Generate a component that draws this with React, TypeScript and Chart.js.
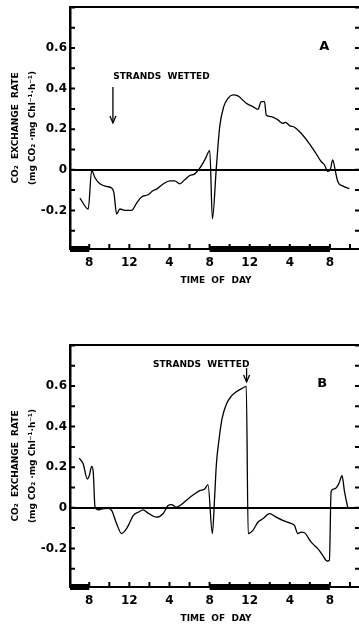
import React, { useEffect, useRef } from 'react';
import { Chart, registerables } from 'chart.js';

Chart.register(...registerables);

// ---- data ----
const X_MIN = 6.08; // hours (clock time, continuous across midnight)
const X_MAX = 35.2;
const Y_MIN = -0.39;
const Y_MAX = 0.802;

const hourTicks = [8, 12, 16, 20, 24, 28, 32];
const hourLabels = ['8', '12', '4', '8', '12', '4', '8'];
const yLabelValues = [0.6, 0.4, 0.2, 0, -0.2];
const yLabelTexts = ['0.6', '0.4', '0.2', '0', '-0.2'];
const darkStart = [X_MIN, 20];
const darkEnd = [8, 32];

const timeA = [7.07, 7.90, 8.24, 8.57, 9.06, 9.73, 10.23, 10.46, 10.73, 11.05, 11.55, 12.22, 12.72, 13.21, 13.87, 14.37, 14.71, 15.36, 16.03, 16.53, 17.02, 17.52, 18.02, 18.53, 19.02, 19.52, 20.02, 20.28, 20.68, 21.01, 21.41, 21.83, 22.33, 22.83, 23.66, 24.32, 24.82, 25.15, 25.48, 25.65, 26.15, 26.81, 27.30, 27.57, 27.97, 28.47, 29.13, 29.96, 30.63, 31.12, 31.45, 31.78, 32.05, 32.28, 32.55, 32.78, 33.27, 33.94];
const rateA = [-0.139, -0.193, -0.003, -0.039, -0.069, -0.082, -0.090, -0.113, -0.218, -0.193, -0.200, -0.200, -0.164, -0.134, -0.123, -0.102, -0.095, -0.070, -0.054, -0.054, -0.069, -0.049, -0.028, -0.020, 0.008, 0.049, 0.095, -0.242, 0.016, 0.213, 0.311, 0.352, 0.369, 0.364, 0.328, 0.311, 0.298, 0.336, 0.336, 0.270, 0.262, 0.246, 0.229, 0.234, 0.218, 0.210, 0.180, 0.128, 0.079, 0.041, 0.025, -0.008, 0.003, 0.049, -0.008, -0.057, -0.079, -0.093];

const timeB = [7.00, 7.40, 7.80, 8.00, 8.24, 8.40, 8.57, 8.90, 9.23, 9.89, 10.23, 10.73, 11.22, 11.72, 12.05, 12.38, 12.88, 13.37, 13.87, 14.71, 15.36, 15.86, 16.20, 16.70, 17.19, 17.85, 18.52, 19.02, 19.52, 19.84, 20.28, 20.51, 20.68, 20.95, 21.25, 21.67, 22.17, 22.67, 23.16, 23.66, 23.85, 24.32, 24.82, 25.31, 25.98, 26.65, 27.30, 27.97, 28.47, 28.80, 29.13, 29.46, 30.13, 30.79, 31.28, 31.72, 31.95, 32.12, 32.45, 32.88, 33.21, 33.44, 33.77];
const rateB = [0.245, 0.216, 0.142, 0.158, 0.204, 0.175, 0.006, -0.010, -0.005, -0.002, -0.013, -0.078, -0.127, -0.103, -0.071, -0.038, -0.022, -0.010, -0.026, -0.046, -0.029, 0.011, 0.016, 0.003, 0.016, 0.044, 0.069, 0.085, 0.093, 0.114, -0.127, 0.060, 0.216, 0.340, 0.440, 0.510, 0.550, 0.572, 0.586, 0.598, -0.127, -0.111, -0.071, -0.054, -0.029, -0.046, -0.062, -0.074, -0.087, -0.127, -0.120, -0.123, -0.169, -0.201, -0.234, -0.262, -0.258, 0.081, 0.093, 0.118, 0.158, 0.085, 0.003];

const FONT = '"DejaVu Sans", sans-serif';

const framePlugin = {
  id: 'frame',
  afterDatasetsDraw(chart: any, _args: any, opts: any) {
    const { ctx, chartArea: a, scales } = chart;
    const x = scales.x;
    const y = scales.y;
    ctx.save();
    ctx.strokeStyle = '#000';
    ctx.fillStyle = '#000';
    // top frame
    ctx.lineWidth = 2;
    ctx.beginPath();
    ctx.moveTo(a.left, a.top);
    ctx.lineTo(a.right, a.top);
    ctx.stroke();
    // inward ticks left and right
    y.ticks.forEach((t: any) => {
      const py = y.getPixelForValue(t.value);
      ctx.beginPath();
      ctx.moveTo(a.left, py);
      ctx.lineTo(a.left + 5, py);
      ctx.moveTo(a.right - 7, py);
      ctx.lineTo(a.right, py);
      ctx.stroke();
    });
    // inward ticks bottom
    x.ticks.forEach((t: any) => {
      const px = x.getPixelForValue(t.value);
      ctx.beginPath();
      ctx.moveTo(px, a.bottom);
      ctx.lineTo(px, a.bottom - 5);
      ctx.stroke();
    });
    // dark periods
    for (let i = 0; i < darkStart.length; i++) {
      const x0 = x.getPixelForValue(darkStart[i]);
      const x1 = x.getPixelForValue(darkEnd[i]);
      ctx.fillRect(x0, a.bottom - 3, x1 - x0, 6);
    }
    // panel letter
    ctx.textAlign = 'center';
    ctx.textBaseline = 'middle';
    ctx.font = `bold 13px ${FONT}`;
    ctx.fillText(opts.letter, x.getPixelForValue(opts.letterT), y.getPixelForValue(opts.letterV));
    // strands wetted
    ctx.font = `bold 9px ${FONT}`;
    ctx.fillText(opts.text, x.getPixelForValue(opts.textT), y.getPixelForValue(opts.textV));
    const ax = x.getPixelForValue(opts.arrowT);
    const y1 = y.getPixelForValue(opts.arrowV1);
    const y2 = y.getPixelForValue(opts.arrowV2);
    ctx.lineWidth = 1.3;
    ctx.beginPath();
    ctx.moveTo(ax, y1);
    ctx.lineTo(ax, y2);
    ctx.stroke();
    ctx.beginPath();
    ctx.moveTo(ax - 3, y2 - 7);
    ctx.lineTo(ax, y2);
    ctx.lineTo(ax + 3, y2 - 7);
    ctx.stroke();
    ctx.restore();
  },
};

function zeroPad(s: any) {
  s.paddingTop = 0;
  s.paddingBottom = 0;
  s.paddingLeft = 0;
  s.paddingRight = 0;
}

function Panel(props: any) {
  const ref = useRef<HTMLCanvasElement>(null);
  useEffect(() => {
    const data = props.time.map((t: number, i: number) => ({ x: t, y: props.rate[i] }));
    const chart = new Chart(ref.current as HTMLCanvasElement, {
      type: 'line',
      data: {
        datasets: [
          {
            data,
            borderColor: '#000',
            borderWidth: 1.3,
            pointRadius: 0,
            cubicInterpolationMode: 'monotone',
            fill: false,
          },
        ],
      },
      options: {
        responsive: false,
        animation: false,
        devicePixelRatio: 1,
        layout: { padding: { top: 7, left: 0, right: 0, bottom: 0 } },
        plugins: {
          legend: { display: false },
          tooltip: { enabled: false },
          frame: props.ann,
        } as any,
        scales: {
          x: {
            type: 'linear',
            min: X_MIN,
            max: X_MAX,
            afterFit: (s: any) => {
              s.height = 51;
              zeroPad(s);
            },
            grid: { display: false, drawTicks: false },
            border: { display: true, color: '#000', width: 2 },
            ticks: {
              stepSize: 2,
              includeBounds: false,
              autoSkip: false,
              maxRotation: 0,
              padding: 7,
              color: '#000',
              font: { family: FONT, weight: 'bold', size: 12 },
              callback: (v: any) => {
                const i = hourTicks.findIndex((h) => Math.abs(h - Number(v)) < 1e-6);
                return i >= 0 ? hourLabels[i] : '';
              },
            },
            title: {
              display: true,
              text: 'TIME  OF  DAY',
              color: '#000',
              font: { family: FONT, weight: 'bold', size: 9, lineHeight: 1.2 },
              padding: { top: 0, bottom: 13.6 },
            },
          },
          y: {
            type: 'linear',
            min: Y_MIN,
            max: Y_MAX,
            afterFit: (s: any) => {
              s.width = 70;
              zeroPad(s);
            },
            grid: {
              drawTicks: false,
              lineWidth: 2,
              color: (c: any) => (c.tick && Math.abs(c.tick.value) < 1e-9 ? '#000' : 'rgba(0,0,0,0)'),
            },
            border: { display: true, color: '#000', width: 2.5 },
            ticks: {
              stepSize: 0.1,
              includeBounds: false,
              autoSkip: false,
              padding: 3,
              color: '#000',
              font: { family: FONT, weight: 'bold', size: 12 },
              callback: (v: any) => {
                const i = yLabelValues.findIndex((h) => Math.abs(h - Number(v)) < 1e-6);
                return i >= 0 ? yLabelTexts[i] : '';
              },
            },
            title: {
              display: true,
              text: ['CO₂  EXCHANGE  RATE', '(mg CO₂ ·mg Chl⁻¹·h⁻¹)'],
              color: '#000',
              font: { family: FONT, weight: 'bold', size: 9, lineHeight: 1.9 },
              padding: { top: 7.5, bottom: 0 },
            },
          },
        },
      } as any,
      plugins: [framePlugin as any],
    });
    return () => chart.destroy();
  }, []);
  return (
    <canvas
      ref={ref}
      width={362}
      height={300}
      style={{ position: 'absolute', left: 0, top: props.top, width: 362, height: 300 }}
    />
  );
}

export default function App() {
  return (
    <div
      style={{
        position: 'fixed',
        left: 0,
        top: 0,
        width: 359,
        height: 627,
        overflow: 'hidden',
        background: '#fff',
      }}
    >
      <Panel
        top={0}
        time={timeA}
        rate={rateA}
        ann={{
          letter: 'A', letterT: 31.45, letterV: 0.609,
          text: 'STRANDS  WETTED', textT: 15.2, textV: 0.457,
          arrowT: 10.36, arrowV1: 0.408, arrowV2: 0.231,
        }}
      />
      <Panel
        top={338}
        time={timeB}
        rate={rateB}
        ann={{
          letter: 'B', letterT: 31.24, letterV: 0.61,
          text: 'STRANDS  WETTED', textT: 19.16, textV: 0.707,
          arrowT: 23.69, arrowV1: 0.688, arrowV2: 0.62,
        }}
      />
    </div>
  );
}
